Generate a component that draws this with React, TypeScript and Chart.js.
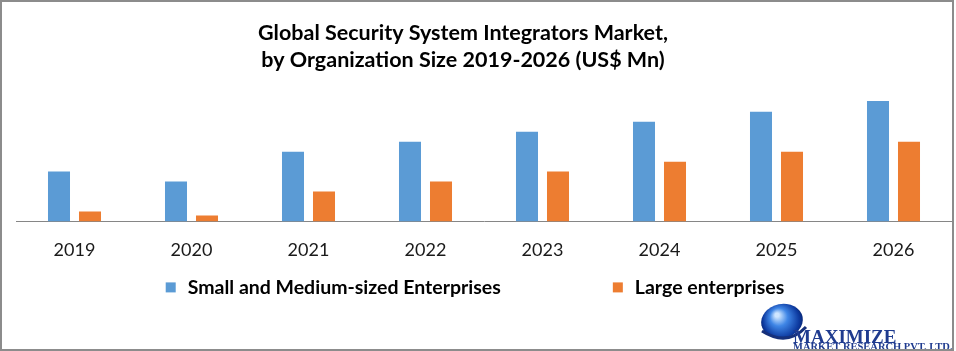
import React, { useEffect, useRef } from "react";
import { Chart, registerables } from "chart.js";

Chart.register(...registerables);

const years = ["2019", "2020", "2021", "2022", "2023", "2024", "2025", "2026"];
const smeValues = [5, 4, 7, 8, 9, 10, 11, 12.1];
const largeValues = [1, 0.6, 3, 4, 5, 6, 7, 8];
const seriesNames = ["Small and Medium-sized Enterprises", "Large enterprises"];
const seriesColors = ["#5B9BD5", "#ED7D31"];
const titleLines = [
  "Global Security System Integrators Market,",
  "by Organization Size 2019-2026 (US$ Mn)",
];
const logoTitle = "MAXIMIZE";
const logoSubtitle = "MARKET RESEARCH PVT. LTD.";
const yMax = 14;

const FONT = "Lato, 'Open Sans', sans-serif";

const titlePlugin = {
  id: "offsetTitle",
  afterDraw(chart: any) {
    const ctx = chart.ctx;
    ctx.save();
    ctx.font = `bold 21.5px ${FONT}`;
    ctx.fillStyle = "#000";
    ctx.textAlign = "center";
    ctx.textBaseline = "middle";
    const cx = chart.width / 2 - 15;
    titleLines.forEach((line, i) => {
      ctx.fillText(line, cx, 33 + i * 27);
    });
    ctx.restore();
  },
};

const legendPlugin = {
  id: "customLegend",
  afterDraw(chart: any) {
    const ctx = chart.ctx;
    ctx.save();
    ctx.font = `bold 19.5px ${FONT}`;
    const box = 10;
    const gapBoxText = 12;
    const gapItems = 112;
    const items = chart.data.datasets.map((ds: any) => ({
      label: ds.label,
      color: ds.backgroundColor,
      w: ctx.measureText(ds.label).width,
    }));
    const total =
      items.reduce((s: number, it: any) => s + box + gapBoxText + it.w, 0) +
      gapItems * (items.length - 1);
    let x = (chart.width - total) / 2 - 3;
    const y = chart.chartArea.bottom + 66;
    items.forEach((it: any) => {
      ctx.fillStyle = it.color;
      ctx.fillRect(x, y - box / 2, box, box);
      x += box + gapBoxText;
      ctx.fillStyle = "#000";
      ctx.textBaseline = "middle";
      ctx.textAlign = "left";
      ctx.fillText(it.label, x, y);
      x += it.w + gapItems;
    });
    ctx.restore();
  },
};

const logoPlugin = {
  id: "logoAndBorder",
  afterDraw(chart: any) {
    const ctx = chart.ctx;
    const W = chart.width;
    const H = chart.height;
    ctx.save();
    // globe
    const cx = W - 174;
    const cy = H - 30;
    const g = ctx.createRadialGradient(cx - 5, cy - 6, 2, cx, cy, 22);
    g.addColorStop(0, "#cfe6ff");
    g.addColorStop(0.35, "#3f86e6");
    g.addColorStop(0.8, "#0d3aa0");
    g.addColorStop(1, "#08246e");
    ctx.fillStyle = g;
    ctx.beginPath();
    ctx.ellipse(cx, cy, 21, 17, -0.2, 0, Math.PI * 2);
    ctx.fill();
    // swoosh
    ctx.strokeStyle = "#16307a";
    ctx.lineWidth = 3;
    ctx.beginPath();
    ctx.moveTo(cx - 20, cy + 10);
    ctx.quadraticCurveTo(cx + 5, cy + 26, cx + 24, cy + 6);
    ctx.stroke();
    // text
    ctx.textAlign = "left";
    ctx.textBaseline = "alphabetic";
    ctx.fillStyle = "#1f3b8f";
    ctx.font = "bold 19px 'Liberation Serif', serif";
    ctx.fillText(logoTitle, W - 163, H - 8);
    ctx.font = "bold 10.5px 'Liberation Serif', serif";
    ctx.fillText(logoSubtitle, W - 163, H - 1);
    // border
    ctx.strokeStyle = "#8c8c8c";
    ctx.lineWidth = 2;
    ctx.strokeRect(1, 1, W - 4, H - 2);
    ctx.restore();
  },
};

export default function App() {
  const ref = useRef<HTMLCanvasElement | null>(null);

  useEffect(() => {
    document.body.style.margin = "0";
    const canvas = ref.current;
    if (!canvas) return;
    const chart = new Chart(canvas, {
      type: "bar",
      data: {
        labels: years,
        datasets: [
          {
            label: seriesNames[0],
            data: smeValues,
            backgroundColor: seriesColors[0],
            categoryPercentage: 0.53,
            barPercentage: 0.71,
          },
          {
            label: seriesNames[1],
            data: largeValues,
            backgroundColor: seriesColors[1],
            categoryPercentage: 0.53,
            barPercentage: 0.71,
          },
        ],
      },
      options: {
        responsive: false,
        animation: false,
        devicePixelRatio: 1,
        layout: { padding: { left: 16, right: 4, top: 82, bottom: 72 } },
        plugins: {
          legend: { display: false },
          tooltip: { enabled: false },
          title: { display: false },
        },
        scales: {
          x: {
            grid: { display: false, drawTicks: false },
            border: { display: true, color: "#868686", width: 1 },
            ticks: { color: "#1a1a1a", font: { family: FONT, size: 18 }, padding: 18 },
          },
          y: { display: false, min: 0, max: yMax },
        },
      },
      plugins: [titlePlugin, legendPlugin, logoPlugin],
    } as any);
    return () => chart.destroy();
  }, []);

  return (
    <div style={{ width: 956, height: 351, background: "#fff" }}>
      <canvas ref={ref} width={956} height={351} style={{ display: "block" }} />
    </div>
  );
}
